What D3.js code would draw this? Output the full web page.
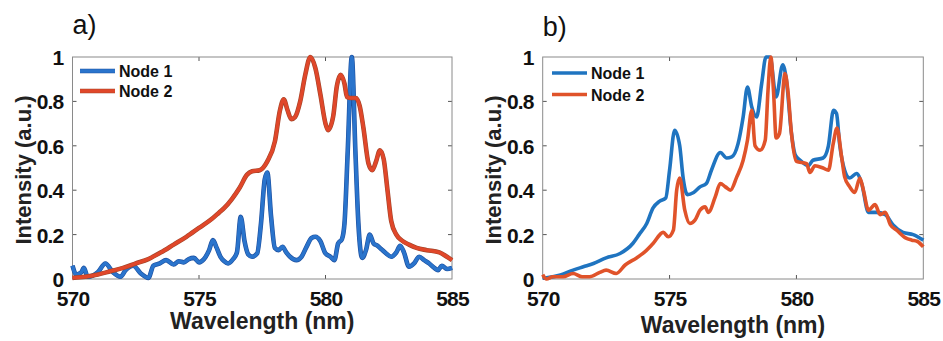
<html>
<head>
<style>
  body { margin: 0; background: #fff; }
  text { font-family: "Liberation Sans", Arial, sans-serif; }
  .tick text { font-weight: bold; font-size: 21px; letter-spacing: -0.8px; fill: #111; }
  .frame { fill: none; stroke: #8a8a8a; stroke-width: 1; }
  .tickmark { stroke: #555; stroke-width: 1; }
  .axlabel { font-weight: bold; font-size: 23px; fill: #222; }
  .ylabel { font-weight: bold; font-size: 22px; fill: #222; }
  .legend text { font-weight: bold; font-size: 16px; fill: #111; }
  .panel { font-size: 27px; fill: #111; }
</style>
</head>
<body>
<svg id="chart" width="943" height="341"></svg>
<script src="https://cdn.jsdelivr.net/npm/d3@7"></script>
<script>
// tick labels
const wavelengthTicks = [570, 575, 580, 585]
const intensityTicks = [0, 0.2, 0.4, 0.6, 0.8, 1]
const seriesNames = ["Node 1", "Node 2"]

// panel a) [wavelength nm, intensity]
const aNode1 = [
  [570.0, 0.06], [570.15, 0.02], [570.35, 0.03], [570.45, 0.05], [570.6, 0.01], [570.8, 0.015],
  [571.0, 0.03], [571.3, 0.07], [571.6, 0.03], [571.9, 0.01], [572.1, 0.04], [572.4, 0.06],
  [572.7, 0.025], [573.0, 0.005], [573.2, 0.06], [573.45, 0.07], [573.7, 0.085], [574.0, 0.065],
  [574.2, 0.08], [574.4, 0.075], [574.6, 0.09], [574.8, 0.095], [575.0, 0.075], [575.2, 0.09],
  [575.4, 0.13], [575.55, 0.175], [575.7, 0.14], [575.85, 0.10], [576.0, 0.08], [576.15, 0.07],
  [576.35, 0.09], [576.5, 0.12], [576.65, 0.28], [576.8, 0.17], [576.95, 0.11], [577.1, 0.10],
  [577.3, 0.115], [577.45, 0.25], [577.6, 0.45], [577.7, 0.48], [577.85, 0.28], [578.0, 0.14],
  [578.15, 0.13], [578.3, 0.145], [578.45, 0.12], [578.6, 0.10], [578.85, 0.085], [579.05, 0.10],
  [579.25, 0.145], [579.45, 0.185], [579.6, 0.19], [579.8, 0.17], [580.0, 0.115], [580.2, 0.10],
  [580.35, 0.085], [580.5, 0.16], [580.65, 0.18], [580.75, 0.25], [580.88, 0.58], [581.04, 1.0],
  [581.18, 0.58], [581.3, 0.25], [581.45, 0.095], [581.6, 0.13], [581.75, 0.20], [581.9, 0.16],
  [582.05, 0.15], [582.2, 0.135], [582.4, 0.115], [582.6, 0.10], [582.8, 0.12], [582.95, 0.15],
  [583.1, 0.12], [583.3, 0.055], [583.5, 0.07], [583.7, 0.10], [583.9, 0.085], [584.1, 0.07],
  [584.3, 0.05], [584.45, 0.04], [584.6, 0.06], [584.8, 0.045], [585.0, 0.05]
]
const aNode2 = [
  [570.0, 0.005], [570.5, 0.01], [571.0, 0.02], [571.5, 0.035], [572.0, 0.05], [572.5, 0.07],
  [573.0, 0.09], [573.5, 0.12], [574.0, 0.155], [574.5, 0.19], [575.0, 0.23], [575.5, 0.27],
  [575.8, 0.30], [576.0, 0.32], [576.3, 0.36], [576.6, 0.41], [576.9, 0.47], [577.1, 0.485],
  [577.4, 0.49], [577.7, 0.53], [578.0, 0.62], [578.2, 0.76], [578.35, 0.81], [578.5, 0.76],
  [578.65, 0.72], [578.8, 0.73], [579.0, 0.80], [579.2, 0.92], [579.4, 1.0], [579.6, 0.95],
  [579.8, 0.83], [580.0, 0.70], [580.1, 0.67], [580.3, 0.73], [580.45, 0.87], [580.6, 0.92],
  [580.75, 0.88], [580.85, 0.82], [581.0, 0.815], [581.2, 0.815], [581.35, 0.78], [581.5, 0.68],
  [581.7, 0.52], [581.85, 0.49], [582.0, 0.53], [582.15, 0.58], [582.3, 0.54], [582.45, 0.40],
  [582.6, 0.26], [582.8, 0.20], [583.0, 0.175], [583.3, 0.155], [583.6, 0.14], [584.0, 0.13],
  [584.5, 0.12], [584.8, 0.10], [585.0, 0.085]
]

// panel b)
const bNode1 = [
  [570.0, 0.003], [570.15, 0.005], [570.7, 0.018], [571.2, 0.04], [571.6, 0.055], [572.0, 0.07],
  [572.5, 0.095], [573.05, 0.115], [573.55, 0.16], [573.8, 0.20], [574.1, 0.25], [574.35, 0.32],
  [574.6, 0.35], [574.85, 0.365], [575.0, 0.49], [575.2, 0.67], [575.4, 0.60], [575.53, 0.46],
  [575.7, 0.38], [575.95, 0.39], [576.2, 0.415], [576.45, 0.43], [576.65, 0.49], [577.0, 0.57],
  [577.25, 0.545], [577.45, 0.55], [577.7, 0.61], [577.9, 0.73], [578.07, 0.865], [578.24, 0.775],
  [578.43, 0.73], [578.63, 0.88], [578.8, 1.0], [578.96, 1.0], [579.2, 0.82], [579.46, 0.965],
  [579.6, 0.90], [579.8, 0.66], [579.95, 0.56], [580.15, 0.535], [580.47, 0.51], [580.65, 0.535],
  [581.05, 0.545], [581.26, 0.60], [581.46, 0.76], [581.58, 0.745], [581.7, 0.61], [581.9, 0.49],
  [582.1, 0.455], [582.37, 0.475], [582.57, 0.43], [582.84, 0.30], [583.15, 0.30], [583.5, 0.29],
  [583.8, 0.245], [584.2, 0.21], [584.6, 0.20], [585.0, 0.175]
]
const bNode2 = [
  [570.0, 0.02], [570.15, 0.0], [570.4, 0.01], [570.8, 0.01], [571.2, 0.025], [571.55, 0.01],
  [571.85, 0.01], [572.25, 0.03], [572.5, 0.04], [572.9, 0.025], [573.25, 0.063], [573.7, 0.095],
  [573.95, 0.115], [574.35, 0.16], [574.75, 0.21], [574.95, 0.19], [575.15, 0.22], [575.28, 0.40],
  [575.4, 0.455], [575.6, 0.31], [575.8, 0.25], [576.0, 0.265], [576.2, 0.31], [576.4, 0.325],
  [576.53, 0.30], [576.8, 0.37], [577.0, 0.43], [577.2, 0.415], [577.4, 0.40], [577.65, 0.46],
  [577.9, 0.535], [578.07, 0.625], [578.24, 0.76], [578.37, 0.60], [578.57, 0.58], [578.77, 0.625],
  [578.88, 0.85], [578.99, 1.0], [579.1, 0.84], [579.2, 0.635], [579.33, 0.655], [579.55, 0.925],
  [579.67, 0.84], [579.8, 0.66], [580.0, 0.53], [580.4, 0.52], [580.53, 0.48], [580.73, 0.51],
  [581.05, 0.50], [581.26, 0.49], [581.45, 0.61], [581.6, 0.68], [581.78, 0.55], [581.9, 0.46],
  [582.1, 0.415], [582.3, 0.39], [582.5, 0.455], [582.64, 0.40], [582.84, 0.31], [583.1, 0.335],
  [583.3, 0.29], [583.5, 0.30], [583.7, 0.245], [583.95, 0.22], [584.3, 0.185], [584.55, 0.175],
  [584.75, 0.17], [585.0, 0.145]
]

const svg = d3.select("#chart")

function drawPanel(p) {
  const g = svg.append("g")
  const x = d3.scaleLinear().domain([570, 585]).range([p.left, p.right])
  const y = d3.scaleLinear().domain([0, 1]).range([p.bottom, p.top])

  // tick marks inside the box, all four sides
  wavelengthTicks.slice(1, -1).forEach(t => {
    g.append("line").attr("class", "tickmark").attr("x1", x(t)).attr("x2", x(t)).attr("y1", p.bottom).attr("y2", p.bottom - 4)
    g.append("line").attr("class", "tickmark").attr("x1", x(t)).attr("x2", x(t)).attr("y1", p.top).attr("y2", p.top + 4)
  })
  intensityTicks.slice(1, -1).forEach(t => {
    g.append("line").attr("class", "tickmark").attr("x1", p.left).attr("x2", p.left + 4).attr("y1", y(t)).attr("y2", y(t))
    g.append("line").attr("class", "tickmark").attr("x1", p.right).attr("x2", p.right - 4).attr("y1", y(t)).attr("y2", y(t))
  })

  const xAxis = g.append("g").attr("transform", `translate(0,${p.bottom})`)
    .call(d3.axisBottom(x).tickValues(wavelengthTicks).tickSize(0).tickPadding(12).tickFormat(d3.format("d")))
  xAxis.select(".domain").remove()
  xAxis.selectAll("text").attr("dy", "0.71em")

  const yAxis = g.append("g").attr("transform", `translate(${p.left},0)`)
    .call(d3.axisLeft(y).tickValues(intensityTicks).tickSize(0).tickPadding(9).tickFormat(d => d === 0 || d === 1 ? d : d.toFixed(1)))
  yAxis.select(".domain").remove()
  yAxis.selectAll("text").attr("dy", "0.36em")

  g.append("rect").attr("class", "frame")
    .attr("x", p.left).attr("y", p.top).attr("width", p.right - p.left).attr("height", p.bottom - p.top)

  const line = d3.line().x(d => x(d[0])).y(d => y(d[1])).curve(d3.curveMonotoneX)

  p.series.forEach(s => {
    if (s.edge) {
      g.append("path").datum(s.data).attr("d", line)
        .attr("fill", "none").attr("stroke", s.edge).attr("stroke-width", s.width + 1.2)
        .attr("stroke-linejoin", "round")
    }
    g.append("path").datum(s.data).attr("d", line)
      .attr("fill", "none").attr("stroke", s.color).attr("stroke-width", s.width)
      .attr("stroke-linejoin", "round")
  })

  // legend
  const lg = g.append("g").attr("class", "legend")
  p.series.forEach((s, i) => {
    const ly = p.legendY + i * p.legendGap
    if (s.edge) {
      lg.append("line").attr("x1", p.legendX).attr("x2", p.legendX + 35).attr("y1", ly).attr("y2", ly)
        .attr("stroke", s.edge).attr("stroke-width", s.width + 1.2)
    }
    lg.append("line").attr("x1", p.legendX).attr("x2", p.legendX + 35).attr("y1", ly).attr("y2", ly)
      .attr("stroke", s.color).attr("stroke-width", s.width)
    lg.append("text").attr("x", p.legendX + 39).attr("y", ly + 6).text(seriesNames[i])
  })

  g.append("text").attr("class", "axlabel").attr("text-anchor", "middle")
    .attr("x", (p.left + p.right) / 2).attr("y", p.xLabelY).text("Wavelength (nm)")
  g.append("text").attr("class", "ylabel").attr("text-anchor", "middle")
    .attr("transform", `translate(${p.yLabelX},${(p.top + p.bottom) / 2 + 2}) rotate(-90)`)
    .text("Intensity (a.u.)")
  g.append("text").attr("class", "panel").attr("x", p.left).attr("y", p.panelY).text(p.name)
}

drawPanel({
  name: "a)", left: 72.5, right: 452, top: 57, bottom: 279,
  xLabelY: 329, yLabelX: 31, panelY: 34,
  legendX: 80, legendY: 71, legendGap: 20,
  series: [
    { data: aNode1, color: "#2a74cc", edge: "#1d4f9e", width: 3.4 },
    { data: aNode2, color: "#e0472a", edge: "#a3452a", width: 3.4 }
  ]
})

drawPanel({
  name: "b)", left: 542.7, right: 923.3, top: 57, bottom: 279,
  xLabelY: 333, yLabelX: 501, panelY: 36,
  legendX: 552, legendY: 73, legendGap: 21.5,
  series: [
    { data: bNode1, color: "#1f74c0", width: 3.6 },
    { data: bNode2, color: "#e0532a", width: 3.6 }
  ]
})
</script>
</body>
</html>
